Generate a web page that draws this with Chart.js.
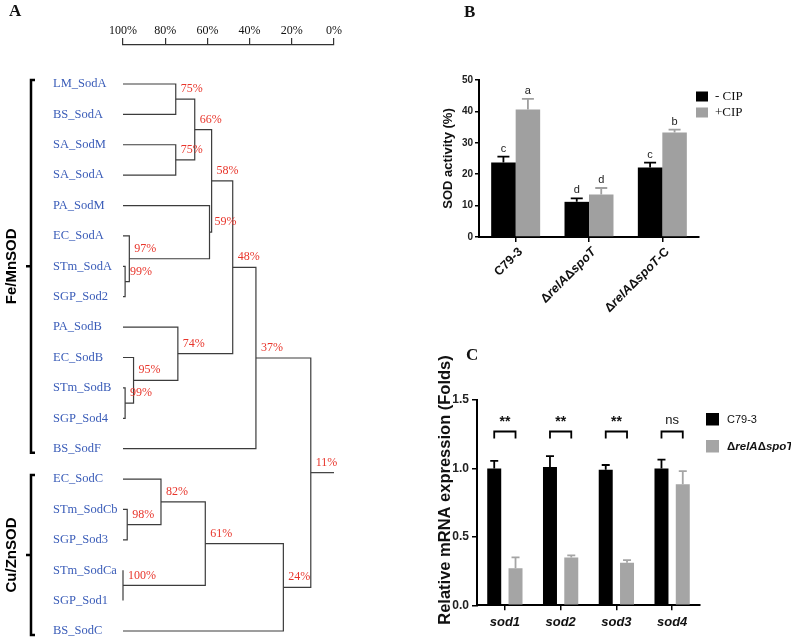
<!DOCTYPE html>
<html>
<head>
<meta charset="utf-8">
<script src="https://cdn.jsdelivr.net/npm/chart.js@4.4.1/dist/chart.umd.min.js"></script>
<style>
  body { margin: 0; background: #fff; }
  #wrap { position: relative; width: 791px; height: 637px; overflow: hidden; }
  canvas { position: absolute; }
  .panel { position: absolute; font: bold 17px "Liberation Serif", serif; color: #111; }
</style>
</head>
<body>
<div id="wrap">
  <canvas id="treeChart" width="400" height="637" style="left:0;top:0"></canvas>
  <canvas id="sodChart" width="391" height="330" style="left:400px;top:0"></canvas>
  <canvas id="mrnaChart" width="391" height="307" style="left:400px;top:330px"></canvas>
  <div class="panel" style="left:9px;top:1px">A</div>
  <div class="panel" style="left:464px;top:2px">B</div>
  <div class="panel" style="left:466px;top:345px">C</div>
</div>
<script>
// ---- panel A: dendrogram ----
const leafNames = ['LM_SodA', 'BS_SodA', 'SA_SodM', 'SA_SodA', 'PA_SodM', 'EC_SodA', 'STm_SodA', 'SGP_Sod2',
  'PA_SodB', 'EC_SodB', 'STm_SodB', 'SGP_Sod4', 'BS_SodF',
  'EC_SodC', 'STm_SodCb', 'SGP_Sod3', 'STm_SodCa', 'SGP_Sod1', 'BS_SodC'];
// merge k joins node mergeA[k] and mergeB[k] into node 19+k (leaves are 0..18)
const mergeA = [0, 2, 19, 6, 5, 4, 21, 10, 9, 8, 25, 29, 14, 13, 16, 32, 34, 30];
const mergeB = [1, 3, 20, 7, 22, 23, 24, 11, 26, 27, 28, 12, 15, 31, 17, 33, 18, 35];
const mergeSim = [75, 75, 66, 99, 97, 59, 58, 99, 95, 74, 48, 37, 98, 82, 100, 61, 24, 11];
const simTicks = [0, 20, 40, 60, 80, 100];
const groupNames = ['Fe/MnSOD', 'Cu/ZnSOD'];
const groupFirst = [0, 13];
const groupLast = [12, 18];

// ---- panel B: SOD activity ----
const strains = ['C79-3', 'ΔrelAΔspoT', 'ΔrelAΔspoT-C'];
const noCip = [23.7, 11.2, 22.1];
const noCipErr = [1.9, 1.1, 1.6];
const withCip = [40.6, 13.5, 33.3];
const withCipErr = [3.4, 2.1, 0.9];
const noCipLetters = ['c', 'd', 'c'];
const withCipLetters = ['a', 'd', 'b'];

// ---- panel C: relative mRNA ----
const genes = ['sod1', 'sod2', 'sod3', 'sod4'];
const wildType = [1.00, 1.01, 0.99, 1.00];
const wildTypeErr = [0.055, 0.08, 0.035, 0.065];
const mutant = [0.27, 0.35, 0.31, 0.885];
const mutantErr = [0.08, 0.015, 0.02, 0.095];
const signif = ['**', '**', '**', 'ns'];
const bracketLevel = 1.27;

// build tree node positions (x = similarity, y = mean of children)
const nodeX = leafNames.map(() => 100);
const nodeY = leafNames.map((n, i) => i);
const treeLines = [];
mergeSim.forEach((sim, k) => {
  const a = mergeA[k], b = mergeB[k];
  treeLines.push([
    { x: nodeX[a], y: nodeY[a] }, { x: sim, y: nodeY[a] },
    { x: sim, y: nodeY[b] }, { x: nodeX[b], y: nodeY[b] }
  ]);
  nodeX.push(sim);
  nodeY.push((nodeY[a] + nodeY[b]) / 2);
});
const root = nodeX.length - 1;
treeLines.push([{ x: nodeX[root], y: nodeY[root] }, { x: 0, y: nodeY[root] }]);

// draws [text, font] pieces one after another
function drawRich(ctx, parts, x, y, align) {
  let w = 0;
  parts.forEach(p => { ctx.font = p[1]; w += ctx.measureText(p[0]).width; });
  let cx = align === 'right' ? x - w : x;
  ctx.textAlign = 'left';
  parts.forEach(p => { ctx.font = p[1]; ctx.fillText(p[0], cx, y); cx += ctx.measureText(p[0]).width; });
}

function strainParts(label, size) {
  return label.split(/(Δ|-C$)/).filter(t => t).map(t =>
    [t, (/^(rel|spo)/.test(t) ? 'italic ' : '') + 'bold ' + size + 'px "Liberation Sans", Arial']);
}

function drawErrorBars(chart, errs, capW) {
  const { ctx, scales: { y } } = chart;
  ctx.save();
  chart.data.datasets.forEach((ds, i) => {
    chart.getDatasetMeta(i).data.forEach((bar, j) => {
      const top = y.getPixelForValue(ds.data[j] + errs[i][j]);
      ctx.strokeStyle = ds.backgroundColor;
      ctx.lineWidth = 1.8;
      ctx.beginPath();
      ctx.moveTo(bar.x, bar.y);
      ctx.lineTo(bar.x, top);
      ctx.moveTo(bar.x - capW / 2, top);
      ctx.lineTo(bar.x + capW / 2, top);
      ctx.stroke();
    });
  });
  ctx.restore();
}

const treeDecor = {
  id: 'treeDecor',
  afterDatasetsDraw(chart) {
    const { ctx, scales: { x, y } } = chart;
    ctx.save();
    ctx.font = '12px "Liberation Serif", serif';
    ctx.fillStyle = '#e8352b';
    ctx.textBaseline = 'middle';
    ctx.textAlign = 'left';
    mergeSim.forEach((sim, k) => {
      const n = leafNames.length + k;
      ctx.fillText(sim + '%', x.getPixelForValue(sim) + 5, y.getPixelForValue(nodeY[n]) - 10);
    });
    ctx.strokeStyle = '#000';
    ctx.fillStyle = '#000';
    ctx.lineWidth = 2.5;
    groupNames.forEach((g, i) => {
      const top = y.getPixelForValue(groupFirst[i]) - 4;
      const bot = y.getPixelForValue(groupLast[i]) + 4;
      const mid = (top + bot) / 2;
      const bx = 31;
      ctx.beginPath();
      ctx.moveTo(bx + 4, top); ctx.lineTo(bx, top); ctx.lineTo(bx, bot); ctx.lineTo(bx + 4, bot);
      ctx.moveTo(bx, mid); ctx.lineTo(bx - 5, mid);
      ctx.stroke();
      ctx.save();
      ctx.translate(12, mid);
      ctx.rotate(-Math.PI / 2);
      ctx.font = 'bold 15px "Liberation Sans", Arial';
      ctx.textAlign = 'center';
      ctx.fillText(g, 0, 0);
      ctx.restore();
    });
    ctx.restore();
  }
};

new Chart(document.getElementById('treeChart'), {
  type: 'scatter',
  data: {
    datasets: treeLines.map(pts => ({
      data: pts, showLine: true, borderColor: '#3c3c3c', borderWidth: 1.2, pointRadius: 0, clip: false
    }))
  },
  options: {
    responsive: false, animation: false, events: [],
    layout: { padding: { left: 53, right: 66, top: 0, bottom: 0 } },
    plugins: { legend: { display: false }, tooltip: { enabled: false } },
    scales: {
      x: {
        type: 'linear', position: 'top', min: 0, max: 100, reverse: true,
        afterFit: s => { s.height = 45; },
        afterBuildTicks: s => { s.ticks = simTicks.map(v => ({ value: v })); },
        ticks: { callback: v => v + '%', font: { family: '"Liberation Serif", serif', size: 12 }, color: '#111', padding: 0, maxRotation: 0 },
        grid: { drawOnChartArea: false, tickLength: 7, color: '#333', lineWidth: 1.2 },
        border: { color: '#333', width: 1.2 }
      },
      y: {
        type: 'linear', min: -1.283, max: 18.197, reverse: true,
        afterFit: s => { s.width = 70; s.paddingTop = 0; s.paddingBottom = 0; },
        afterBuildTicks: s => { s.ticks = leafNames.map((n, i) => ({ value: i })); },
        ticks: { callback: v => leafNames[v], crossAlign: 'far', autoSkip: false,
          font: { family: '"Liberation Serif", serif', size: 12.5 }, color: '#3a5cb8' },
        grid: { display: false },
        border: { display: false }
      }
    }
  },
  plugins: [treeDecor]
});

// ---- B ----
const sodDecor = {
  id: 'sodDecor',
  afterDatasetsDraw(chart) {
    drawErrorBars(chart, [noCipErr, withCipErr], 12);
    const { ctx, scales: { x, y } } = chart;
    const letters = [noCipLetters, withCipLetters];
    const errs = [noCipErr, withCipErr];
    ctx.save();
    ctx.fillStyle = '#222';
    ctx.font = '11px "Liberation Sans", Arial';
    ctx.textAlign = 'center';
    ctx.textBaseline = 'middle';
    chart.data.datasets.forEach((ds, i) => {
      chart.getDatasetMeta(i).data.forEach((bar, j) => {
        ctx.fillText(letters[i][j], bar.x, y.getPixelForValue(ds.data[j] + errs[i][j]) - 8);
      });
    });
    // rotated strain labels
    ctx.fillStyle = '#111';
    strains.forEach((s, i) => {
      ctx.save();
      ctx.translate(x.getPixelForTick(i) + 5, chart.chartArea.bottom + 13);
      ctx.rotate(-Math.PI / 4);
      drawRich(ctx, strainParts(s, 12.5), 0, 0, 'right');
      ctx.restore();
    });
    // legend
    ctx.font = '13px "Liberation Serif", serif';
    ctx.textBaseline = 'middle';
    chart.data.datasets.forEach((ds, i) => {
      const top = 91.5 + i * 16;
      ctx.fillStyle = ds.backgroundColor;
      ctx.fillRect(296, top, 12, 10);
      ctx.fillStyle = '#111';
      ctx.textAlign = 'left';
      ctx.fillText(ds.label, 315, top + 5.5);
    });
    ctx.restore();
  }
};

new Chart(document.getElementById('sodChart'), {
  type: 'bar',
  data: {
    labels: strains,
    datasets: [
      { label: '- CIP', data: noCip, backgroundColor: '#000000' },
      { label: '+CIP', data: withCip, backgroundColor: '#a0a0a0' }
    ]
  },
  options: {
    responsive: false, animation: false, events: [],
    categoryPercentage: 0.668, barPercentage: 1.0,
    layout: { padding: { left: 41, right: 92, top: 80, bottom: 0 } },
    plugins: { legend: { display: false }, tooltip: { enabled: false } },
    scales: {
      x: {
        afterFit: s => { s.height = 93; },
        ticks: { display: false },
        grid: { offset: false, drawOnChartArea: false, tickLength: 5, color: '#000', lineWidth: 1.5 },
        border: { color: '#000', width: 2 }
      },
      y: {
        min: 0, max: 50,
        afterFit: s => { s.width = 38; },
        ticks: { stepSize: 10, padding: 2, color: '#222', font: { family: '"Liberation Sans", Arial', size: 10, weight: 'bold' } },
        title: { display: true, text: 'SOD activity (%)', padding: 0, color: '#111',
          font: { family: '"Liberation Sans", Arial', size: 13, weight: 'bold' } },
        grid: { drawOnChartArea: false, tickLength: 4, color: '#000', lineWidth: 1.5 },
        border: { color: '#000', width: 2 }
      }
    }
  },
  plugins: [sodDecor]
});

// ---- C ----
const mrnaDecor = {
  id: 'mrnaDecor',
  afterDatasetsDraw(chart) {
    drawErrorBars(chart, [wildTypeErr, mutantErr], 8);
    const { ctx, scales: { y } } = chart;
    const m0 = chart.getDatasetMeta(0).data, m1 = chart.getDatasetMeta(1).data;
    const top = y.getPixelForValue(bracketLevel);
    ctx.save();
    ctx.strokeStyle = '#000';
    ctx.fillStyle = '#111';
    ctx.lineWidth = 1.8;
    ctx.textAlign = 'center';
    ctx.textBaseline = 'middle';
    signif.forEach((s, j) => {
      ctx.beginPath();
      ctx.moveTo(m0[j].x, top + 7); ctx.lineTo(m0[j].x, top);
      ctx.lineTo(m1[j].x, top); ctx.lineTo(m1[j].x, top + 7);
      ctx.stroke();
      ctx.font = s === 'ns' ? '13px "Liberation Sans", Arial' : 'bold 14px "Liberation Sans", Arial';
      ctx.fillText(s, (m0[j].x + m1[j].x) / 2, top - (s === 'ns' ? 11 : 9));
    });
    // y title, shifted up a little like the original
    ctx.save();
    ctx.translate(45, 160);
    ctx.rotate(-Math.PI / 2);
    ctx.font = 'bold 16.5px "Liberation Sans", Arial';
    ctx.fillText('Relative mRNA expression (Folds)', 0, 0);
    ctx.restore();
    // legend
    chart.data.datasets.forEach((ds, i) => {
      const bt = 83 + i * 27;
      ctx.fillStyle = ds.backgroundColor;
      ctx.fillRect(306, bt, 13, 12.5);
      ctx.fillStyle = '#111';
      if (i === 0) {
        ctx.font = '11px "Liberation Sans Narrow", "Liberation Sans", Arial';
        ctx.textAlign = 'left';
        ctx.fillText(ds.label, 327, bt + 6.5);
      } else {
        drawRich(ctx, strainParts(ds.label, 11.5), 327, bt + 6.5, 'left');
      }
    });
    ctx.restore();
  }
};

new Chart(document.getElementById('mrnaChart'), {
  type: 'bar',
  data: {
    labels: genes,
    datasets: [
      { label: 'C79-3', data: wildType, backgroundColor: '#000000' },
      { label: 'ΔrelAΔspoT', data: mutant, backgroundColor: '#a5a5a5' }
    ]
  },
  options: {
    responsive: false, animation: false, events: [],
    categoryPercentage: 0.764, barPercentage: 0.657,
    layout: { padding: { left: 37, right: 91, top: 70, bottom: 0 } },
    plugins: { legend: { display: false }, tooltip: { enabled: false } },
    scales: {
      x: {
        afterFit: s => { s.height = 31.7; },
        ticks: { padding: 4, color: '#111', font: { family: '"Liberation Sans", Arial', size: 13, weight: 'bold', style: 'italic' } },
        grid: { offset: false, drawOnChartArea: false, tickLength: 5, color: '#000', lineWidth: 1.5 },
        border: { color: '#000', width: 2 }
      },
      y: {
        min: 0, max: 1.5,
        afterFit: s => { s.width = 40; },
        ticks: { stepSize: 0.5, padding: 3, color: '#222', callback: v => v.toFixed(1),
          font: { family: '"Liberation Sans", Arial', size: 12, weight: 'bold' } },
        grid: { drawOnChartArea: false, tickLength: 5, color: '#000', lineWidth: 1.5 },
        border: { color: '#000', width: 2 }
      }
    }
  },
  plugins: [mrnaDecor]
});
</script>
</body>
</html>
